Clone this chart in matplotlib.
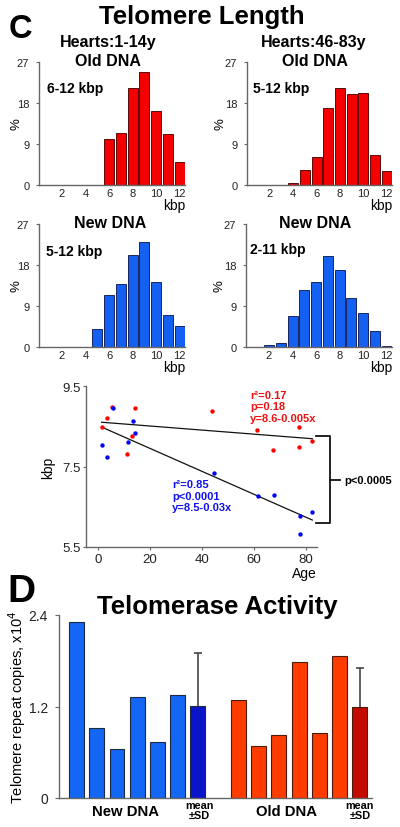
import matplotlib
matplotlib.use("Agg")
import matplotlib.pyplot as plt
import numpy as np

plt.rcParams['font.family'] = ['Liberation Sans', 'DejaVu Sans']

# ---------------- data ----------------
kbp_bins = [1, 2, 3, 4, 5, 6, 7, 8, 9, 10, 11, 12]
old_dna_young = [0, 0, 0, 0, 0, 10.1, 11.4, 21.3, 24.8, 16.3, 11.2, 5.0]
old_dna_old = [0, 0, 0, 0.4, 3.4, 6.2, 17.0, 21.2, 20.0, 20.2, 6.5, 3.1]
new_dna_young = [0, 0, 0, 0, 4.0, 11.4, 13.8, 20.2, 23.0, 14.2, 7.1, 4.6]
new_dna_old = [0, 0.4, 0.8, 6.7, 12.5, 14.2, 19.9, 16.9, 10.8, 7.5, 3.5, 0.15]
hist_xticks = [2, 4, 6, 8, 10, 12]
hist_yticks = [0, 9, 18, 27]

red_age = [1.4, 3.3, 5.3, 11.0, 13.0, 14.2, 44.0, 61.3, 67.4, 77.3, 77.3, 82.2]
red_kbp = [8.48, 8.71, 8.99, 7.82, 8.27, 8.96, 8.88, 8.41, 7.90, 8.49, 7.99, 8.14]
blue_age = [1.7, 3.6, 5.6, 11.4, 13.5, 14.4, 44.5, 61.7, 67.7, 77.6, 77.6, 82.4]
blue_kbp = [8.04, 7.73, 8.95, 8.10, 8.62, 8.34, 7.33, 6.77, 6.80, 6.27, 5.82, 6.37]
fit_age = [1.4, 82.4]
red_fit_kbp = [8.60, 8.19]
blue_fit_kbp = [8.48, 6.17]
scatter_xticks = [0, 20, 40, 60, 80]
scatter_yticks = [5.5, 7.5, 9.5]

new_dna_activity = [2.31, 0.92, 0.646, 1.32, 0.733, 1.35]
new_dna_mean, new_dna_sd = 1.21, 0.69
old_dna_activity = [1.29, 0.685, 0.83, 1.78, 0.846, 1.86]
old_dna_mean, old_dna_sd = 1.19, 0.51
activity_yticks = [0, 1.2, 2.4]

# ---------------- figure ----------------
W, H = 400, 828
fig = plt.figure(figsize=(W / 100, H / 100), dpi=100)


def fx(px):
    return px / W


def fy(py):
    return 1 - py / H


def add_axes_px(x0, x1, ytop, ybot):
    return fig.add_axes([fx(x0), fy(ybot), (x1 - x0) / W, (ybot - ytop) / H])


spine_col = '#666666'


def style_axes(ax):
    for s in ['top', 'right']:
        ax.spines[s].set_visible(False)
    for s in ['left', 'bottom']:
        ax.spines[s].set_color(spine_col)
        ax.spines[s].set_linewidth(1.0)


hist_specs = [
    (39, 185, 63, 186, old_dna_young, 'red', -0.115),
    (247, 392, 63, 186, old_dna_old, 'red', -0.14),
    (39, 185, 225, 348, new_dna_young, 'blue', -0.115),
    (246, 392, 225, 348, new_dna_old, 'blue', -0.14),
]
for x0, x1, yt, yb, vals, col, lab_x in hist_specs:
    ax = add_axes_px(x0, x1, yt, yb)
    style_axes(ax)
    xs = [k for k, v in zip(kbp_bins, vals) if v > 0]
    vs = [v for v in vals if v > 0]
    if col == 'red':
        ax.bar(xs, vs, width=0.85, color='#f50000', edgecolor='#5a0a0a', linewidth=0.7)
    else:
        ax.bar(xs, vs, width=0.85, color='#1460f0', edgecolor='#1a2560', linewidth=0.7)
    ax.set_xlim(0.05, 12.45)
    ax.set_ylim(0, 27)
    ax.set_xticks(hist_xticks)
    ax.set_yticks(hist_yticks)
    ax.tick_params(axis='x', length=0, pad=2, labelsize=8, colors='#222222')
    ax.tick_params(axis='y', length=2, pad=5, labelsize=8, colors='#222222', color=spine_col)
    ax.set_ylabel('%', fontsize=9.5)
    ax.yaxis.set_label_coords(lab_x, 0.5)
    ax.text(1.0, -0.16, 'kbp', transform=ax.transAxes, ha='right', va='center', fontsize=10)

# titles and inner labels for histograms
fig.text(fx(202), fy(17), 'Telomere Length', ha='center', va='center', fontsize=18.5, fontweight='bold')
fig.text(fx(20), fy(29), 'C', ha='center', va='center', fontsize=23.5, fontweight='bold')
fig.text(fx(108), fy(43), 'Hearts:1-14y', ha='center', va='center', fontsize=11.5, fontweight='bold')
fig.text(fx(108), fy(62), 'Old DNA', ha='center', va='center', fontsize=11.5, fontweight='bold')
fig.text(fx(314), fy(43), 'Hearts:46-83y', ha='center', va='center', fontsize=11.5, fontweight='bold')
fig.text(fx(315), fy(62), 'Old DNA', ha='center', va='center', fontsize=11.5, fontweight='bold')
fig.text(fx(110), fy(223), 'New DNA', ha='center', va='center', fontsize=11.5, fontweight='bold')
fig.text(fx(315), fy(223), 'New DNA', ha='center', va='center', fontsize=11.5, fontweight='bold')
fig.text(fx(47), fy(89), '6-12 kbp', ha='left', va='center', fontsize=10, fontweight='bold')
fig.text(fx(253), fy(89), '5-12 kbp', ha='left', va='center', fontsize=10, fontweight='bold')
fig.text(fx(46), fy(252), '5-12 kbp', ha='left', va='center', fontsize=10, fontweight='bold')
fig.text(fx(250), fy(250), '2-11 kbp', ha='left', va='center', fontsize=10, fontweight='bold')

# ---------------- scatter ----------------
ax = add_axes_px(86, 317, 387, 548)
style_axes(ax)
ax.scatter(red_age, red_kbp, s=10, color='#ff0000', zorder=3, linewidths=0)
ax.scatter(blue_age, blue_kbp, s=10, color='#0000ff', zorder=3, linewidths=0)
ax.plot(fit_age, red_fit_kbp, color='#111111', lw=0.9)
ax.plot(fit_age, blue_fit_kbp, color='#111111', lw=0.9)
ax.set_xlim(-4.6, 84.2)
ax.set_ylim(5.5, 9.5)
ax.set_xticks(scatter_xticks)
ax.set_yticks(scatter_yticks)
ax.tick_params(axis='both', labelsize=9.5, colors='#222222', color=spine_col, length=2)
ax.tick_params(axis='x', pad=2)
ax.tick_params(axis='y', pad=2)
ax.set_ylabel('kbp', fontsize=10)
ax.yaxis.set_label_coords(-0.135, 0.5)
ax.text(1.0, -0.16, 'Age', transform=ax.transAxes, ha='right', va='center', fontsize=10)
ax.text(58.5, 9.0, 'r²=0.17\np=0.18\ny=8.6-0.005x', color='#ee1111', fontsize=8,
        fontweight='bold', ha='left', va='center', linespacing=1.2)
ax.text(28.5, 6.77, 'r²=0.85\np<0.0001\ny=8.5-0.03x', color='#1111ee', fontsize=8,
        fontweight='bold', ha='left', va='center', linespacing=1.2)
# bracket
bx0, bx1, bx2 = 83.8, 89.2, 93.0
ytop, ybot, ymid = 8.26, 6.10, 7.16
ax.plot([bx0, bx1, bx1, bx0], [ytop, ytop, ybot, ybot], color='#111111', lw=1.3, clip_on=False)
ax.plot([bx1, bx2], [ymid, ymid], color='#111111', lw=1.3, clip_on=False)
ax.text(94.6, ymid, 'p<0.0005', fontsize=8, fontweight='bold', ha='left', va='center')

# ---------------- telomerase activity ----------------
fig.text(fx(21), fy(592), 'D', ha='center', va='center', fontsize=28, fontweight='bold')
fig.text(fx(217), fy(607), 'Telomerase Activity', ha='center', va='center', fontsize=18.5, fontweight='bold')

ax = add_axes_px(59, 372, 616, 799)
style_axes(ax)
new_x = np.arange(len(new_dna_activity))
old_x = np.arange(len(old_dna_activity)) + 8
ax.bar(new_x, new_dna_activity, width=0.73, color='#1466f4', edgecolor='#1d2a44', linewidth=0.8)
ax.bar([6], [new_dna_mean], width=0.73, color='#0a14c8', edgecolor='#1d2a44', linewidth=0.8)
ax.bar(old_x, old_dna_activity, width=0.73, color='#ff3c00', edgecolor='#4a1a0a', linewidth=0.8)
ax.bar([14], [old_dna_mean], width=0.73, color='#c40a00', edgecolor='#4a1a0a', linewidth=0.8)
# upper-only SD whiskers
for xm, m, sd in [(6, new_dna_mean, new_dna_sd), (14, old_dna_mean, old_dna_sd)]:
    ax.vlines(xm, m, m + sd, color='#444444', lw=1.2)
    ax.hlines(m + sd, xm - 0.2, xm + 0.2, color='#444444', lw=1.2)
ax.set_xlim(-0.86, 14.6)
ax.set_ylim(0, 2.4)
ax.set_xticks([])
ax.set_yticks(activity_yticks)
ax.set_yticklabels(['0', '1.2', '2.4'])
ax.tick_params(axis='y', labelsize=10, colors='#222222', color=spine_col, length=3, pad=5)
ax.set_ylabel('Telomere repeat copies, x10$^4$', fontsize=10.5)
ax.yaxis.set_label_coords(-0.1, 0.5)
trans = matplotlib.transforms.blended_transform_factory(ax.transData, ax.transAxes)
ax.text(2.44, -0.07, 'New DNA', transform=trans, ha='center', va='center', fontsize=10.7, fontweight='bold')
ax.text(10.4, -0.07, 'Old DNA', transform=trans, ha='center', va='center', fontsize=10.7, fontweight='bold')
ax.text(6.06, -0.065, 'mean\n±SD', transform=trans, ha='center', va='center', fontsize=7.8,
        fontweight='bold', linespacing=0.95)
ax.text(14.0, -0.065, 'mean\n±SD', transform=trans, ha='center', va='center', fontsize=7.8,
        fontweight='bold', linespacing=0.95)

fig.savefig('out.png', dpi=100)
